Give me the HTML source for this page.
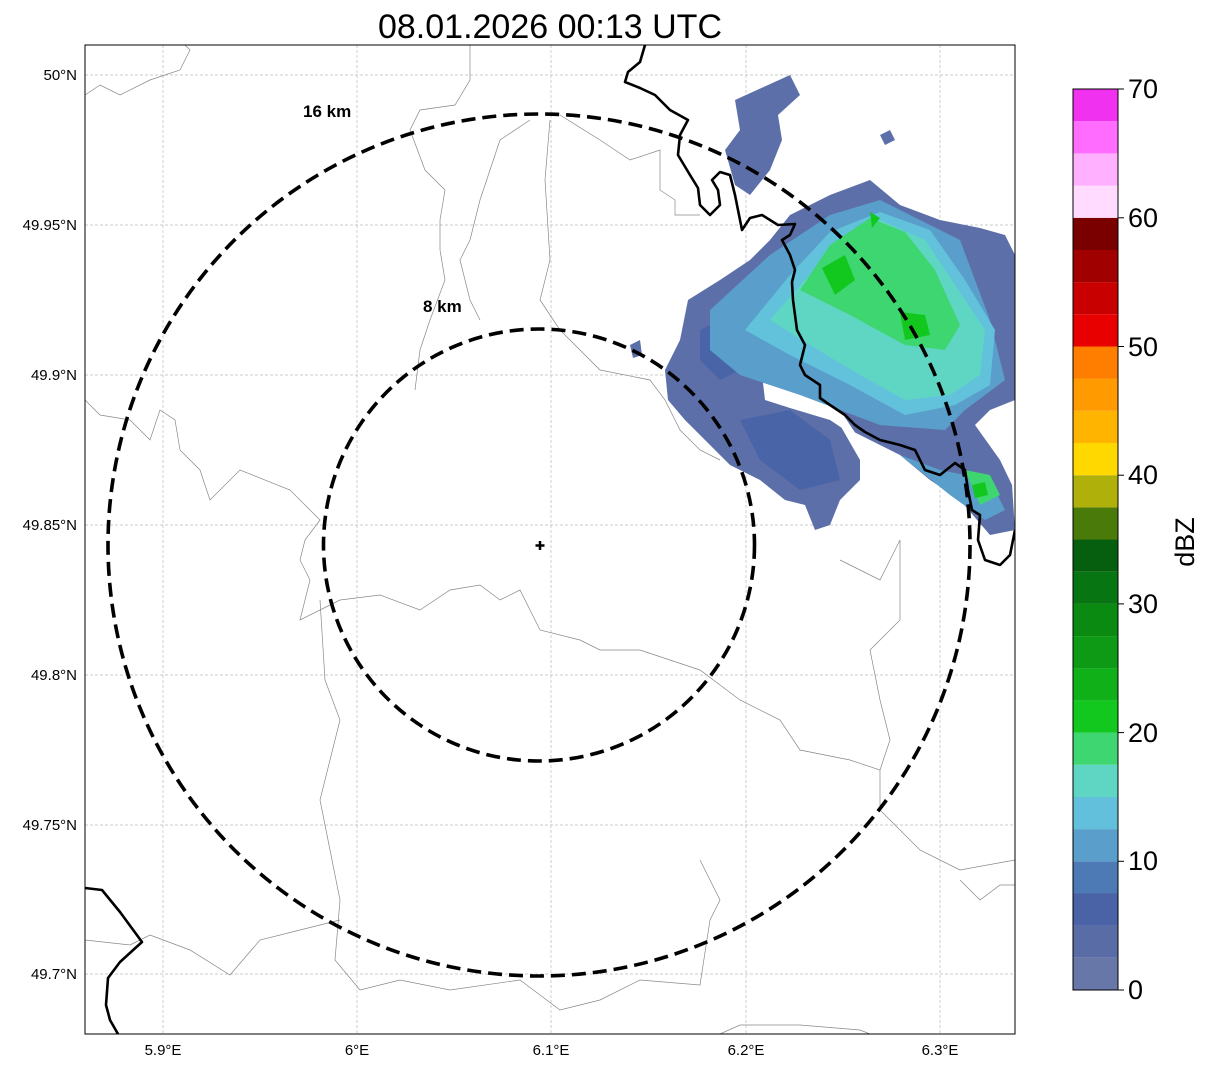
<!DOCTYPE html>
<html><head><meta charset="utf-8"><style>
body{margin:0;background:#fff;}
svg text{font-family:"Liberation Sans",sans-serif;}
</style></head><body>
<svg width="1207" height="1069" viewBox="0 0 1207 1069" xmlns="http://www.w3.org/2000/svg">
<rect width="1207" height="1069" fill="#fff"/>
<text x="550" y="38" font-size="34" text-anchor="middle">08.01.2026 00:13 UTC</text>
<defs><clipPath id="c"><rect x="85" y="45" width="930" height="989"/></clipPath></defs>
<g clip-path="url(#c)">
<!-- grid -->
<g stroke="#bbb" stroke-width="0.7" stroke-dasharray="3,2">
<line x1="163" y1="45" x2="163" y2="1034"/><line x1="357" y1="45" x2="357" y2="1034"/><line x1="551" y1="45" x2="551" y2="1034"/><line x1="746" y1="45" x2="746" y2="1034"/><line x1="940" y1="45" x2="940" y2="1034"/>
<line x1="85" y1="75" x2="1015" y2="75"/><line x1="85" y1="225" x2="1015" y2="225"/><line x1="85" y1="375" x2="1015" y2="375"/><line x1="85" y1="525" x2="1015" y2="525"/><line x1="85" y1="675" x2="1015" y2="675"/><line x1="85" y1="825" x2="1015" y2="825"/><line x1="85" y1="974" x2="1015" y2="974"/>
</g>
<!-- thin gray lines -->
<g fill="none" stroke="#888" stroke-width="0.7">
<path d="M85,95 L100,85 L120,95 L150,80 L180,70 L190,50 L185,45"/>
<path d="M470,45 L470,80 L455,105 L420,110 L410,130 L425,170 L445,190 L440,220 L440,250 L445,280 L430,320 L420,350 L415,390"/>
<path d="M530,120 L500,140 L480,200 L470,240 L460,260 L470,300 L480,320"/>
<path d="M550,120 L545,180 L550,260 L540,300 L560,330 L600,370 L650,380 L665,400 L680,430 L700,450 L720,460"/>
<path d="M560,115 L600,140 L630,160 L660,150 L660,190 L675,200 L675,215 L700,215"/>
<path d="M85,400 L100,415 L130,420 L150,440 L160,410 L175,420 L180,450 L200,470 L210,500 L240,470 L290,490 L320,520 L305,540 L300,560 L310,580 L300,620 L340,600 L380,595 L420,610 L450,590 L480,585 L500,600 L520,590 L540,630 L580,640 L600,650 L640,650 L700,670 L740,700 L780,720 L800,750 L850,760 L880,770 L880,810 L900,830 L920,850 L960,870 L1015,860"/>
<path d="M320,600 L325,680 L340,720 L330,760 L320,800 L330,850 L340,900 L335,960 L360,990 L400,980 L450,990 L520,980 L560,1010 L600,1000 L640,980 L700,985 L710,920 L720,900 L700,860"/>
<path d="M85,940 L130,945 L150,935 L190,950 L230,975 L260,940 L300,930 L340,920"/>
<path d="M840,560 L880,580 L900,540 L900,620 L870,650 L880,700 L890,740 L880,770"/>
<path d="M960,880 L980,900 L1000,885 L1015,885"/>
<path d="M720,1034 L740,1025 L800,1025 L860,1030 L870,1034"/>
</g>
<!-- radar -->
<g>
<polygon fill="#5d6fa8" points="735,100 790,75 800,95 778,115 782,140 770,170 750,195 735,185 725,150 740,130"/>
<polygon fill="#5d6fa8" points="790,215 830,195 870,180 900,205 940,220 980,228 1005,235 1015,255 1015,330 1015,400 990,410 975,425 1000,460 1012,485 1015,530 990,535 960,500 930,480 900,455 870,440 840,425 860,460 860,480 840,500 830,525 815,530 805,505 785,500 760,480 730,465 705,440 685,420 668,400 665,370 680,340 688,300 720,280 750,260 770,240"/>
<polygon fill="#fff" points="763,383 800,378 830,395 860,440 830,420 790,408 765,400"/>
<polygon fill="#4a64a8" points="700,330 760,300 790,320 760,360 720,380 700,360"/>
<polygon fill="#4a64a8" points="740,420 790,410 830,440 840,480 800,490 760,460"/>
<polygon fill="#5a9ecb" points="710,310 770,255 830,215 880,200 960,240 990,320 1005,380 965,410 945,430 880,425 800,395 740,375 710,350"/>
<polygon fill="#5a9ecb" points="900,455 940,470 990,480 1005,510 985,520 950,495"/>
<polygon fill="#62c2dc" points="745,330 790,275 830,232 880,212 930,230 965,280 995,330 990,385 955,405 905,415 850,385 790,355"/>
<polygon fill="#5fd6c4" points="770,320 805,280 840,240 880,220 925,240 955,285 985,330 980,375 950,395 905,400 860,375 810,345"/>
<polygon fill="#3dd670" points="800,290 830,245 870,218 905,232 935,270 960,325 945,350 905,345 850,315"/>
<polygon fill="#3dd670" points="965,470 990,475 1000,495 980,505"/>
<polygon fill="#12c81e" points="822,268 845,255 855,280 835,295"/>
<polygon fill="#12c81e" points="900,312 925,315 930,335 905,340"/>
<polygon fill="#12c81e" points="870,212 880,218 872,228"/>
<polygon fill="#12c81e" points="972,485 985,482 988,495 975,498"/>
<polygon fill="#5d6fa8" points="630,345 640,340 642,355 633,358"/>
<polygon fill="#5d6fa8" points="880,135 890,130 895,140 885,145"/>
</g>
<!-- borders -->
<g fill="none" stroke="#000" stroke-width="2.6" stroke-linejoin="round">
<path d="M645,45 L640,62 L628,72 L625,82 L640,88 L655,95 L670,110 L688,120 L680,135 L678,155 L690,175 L698,188 L700,205 L710,215 L720,205 L718,190 L712,180 L720,172 L730,175 L735,195 L740,220 L742,230 L750,218 L762,215 L778,225 L795,224 L790,235 L782,240 L790,255 L795,270 L792,282 L793,300 L795,315 L797,330 L805,345 L800,365 L805,375 L820,385 L820,398 L830,405 L845,415 L855,425 L865,432 L880,440 L900,445 L915,450 L925,470 L940,475 L955,463 L965,470 L968,490 L972,510 L980,515 L978,540 L985,560 L1000,565 L1010,555 L1015,530"/>
<path d="M85,888 L102,890 L120,912 L142,942 L120,962 L108,978 L106,1005 L110,1020 L118,1034"/>
</g>
<!-- circles -->
<g fill="none" stroke="#000" stroke-width="3.6" stroke-dasharray="14,7">
<ellipse cx="539" cy="545" rx="431" ry="431"/>
<ellipse cx="539" cy="545" rx="215.5" ry="216"/>
</g>
<path d="M540,541 L540,550 M535.5,545.5 L544.5,545.5" stroke="#000" stroke-width="2.5"/>
<text x="303" y="117" font-size="17" font-weight="bold">16 km</text>
<text x="423" y="312" font-size="17" font-weight="bold">8 km</text>
</g>
<rect x="85" y="45" width="930" height="989" fill="none" stroke="#000" stroke-width="1"/>
<!-- ticks -->
<g font-size="15" fill="#000">
<g text-anchor="end">
<text x="77" y="80">50°N</text><text x="77" y="230">49.95°N</text><text x="77" y="380">49.9°N</text><text x="77" y="530">49.85°N</text><text x="77" y="680">49.8°N</text><text x="77" y="830">49.75°N</text><text x="77" y="979">49.7°N</text>
</g>
<g text-anchor="middle">
<text x="163" y="1055">5.9°E</text><text x="357" y="1055">6°E</text><text x="551" y="1055">6.1°E</text><text x="746" y="1055">6.2°E</text><text x="940" y="1055">6.3°E</text>
</g>
</g>
<!-- colorbar -->
<g>
<rect x="1073" y="957.8" width="45" height="32.2" fill="#6677a8"/>
<rect x="1073" y="925.6" width="45" height="32.2" fill="#5a6ca5"/>
<rect x="1073" y="893.5" width="45" height="32.2" fill="#4a62a6"/>
<rect x="1073" y="861.3" width="45" height="32.2" fill="#4d7ab4"/>
<rect x="1073" y="829.1" width="45" height="32.2" fill="#5a9ecb"/>
<rect x="1073" y="796.9" width="45" height="32.2" fill="#62c0dc"/>
<rect x="1073" y="764.8" width="45" height="32.2" fill="#5fd6c4"/>
<rect x="1073" y="732.6" width="45" height="32.2" fill="#3dd670"/>
<rect x="1073" y="700.4" width="45" height="32.2" fill="#12c81e"/>
<rect x="1073" y="668.2" width="45" height="32.2" fill="#10b018"/>
<rect x="1073" y="636.1" width="45" height="32.2" fill="#0e9a14"/>
<rect x="1073" y="603.9" width="45" height="32.2" fill="#0b8a12"/>
<rect x="1073" y="571.7" width="45" height="32.2" fill="#077612"/>
<rect x="1073" y="539.5" width="45" height="32.2" fill="#055f0e"/>
<rect x="1073" y="507.4" width="45" height="32.2" fill="#4a7a0a"/>
<rect x="1073" y="475.2" width="45" height="32.2" fill="#b0b00a"/>
<rect x="1073" y="443" width="45" height="32.2" fill="#ffd800"/>
<rect x="1073" y="410.8" width="45" height="32.2" fill="#ffb400"/>
<rect x="1073" y="378.6" width="45" height="32.2" fill="#ff9a00"/>
<rect x="1073" y="346.5" width="45" height="32.2" fill="#ff7e00"/>
<rect x="1073" y="314.3" width="45" height="32.2" fill="#e80000"/>
<rect x="1073" y="282.1" width="45" height="32.2" fill="#c80000"/>
<rect x="1073" y="249.9" width="45" height="32.2" fill="#a00000"/>
<rect x="1073" y="217.8" width="45" height="32.2" fill="#7a0000"/>
<rect x="1073" y="185.6" width="45" height="32.2" fill="#ffdcff"/>
<rect x="1073" y="153.4" width="45" height="32.2" fill="#ffb0ff"/>
<rect x="1073" y="121.2" width="45" height="32.2" fill="#ff6cff"/>
<rect x="1073" y="89" width="45" height="32.2" fill="#f032f0"/>
<rect x="1073" y="89" width="45" height="901" fill="none" stroke="#000" stroke-width="1"/>
<g stroke="#000" stroke-width="1">
<line x1="1118" y1="990" x2="1124" y2="990"/><line x1="1118" y1="861.3" x2="1124" y2="861.3"/><line x1="1118" y1="732.6" x2="1124" y2="732.6"/><line x1="1118" y1="603.9" x2="1124" y2="603.9"/><line x1="1118" y1="475.2" x2="1124" y2="475.2"/><line x1="1118" y1="346.5" x2="1124" y2="346.5"/><line x1="1118" y1="217.8" x2="1124" y2="217.8"/><line x1="1118" y1="89" x2="1124" y2="89"/>
</g>
<g font-size="27">
<text x="1128" y="999">0</text><text x="1128" y="870">10</text><text x="1128" y="742">20</text><text x="1128" y="613">30</text><text x="1128" y="484">40</text><text x="1128" y="356">50</text><text x="1128" y="227">60</text><text x="1128" y="98">70</text>
</g>
<text x="1194" y="542" font-size="27" text-anchor="middle" transform="rotate(-90 1194 542)">dBZ</text>
</g>
</svg>
</body></html>
